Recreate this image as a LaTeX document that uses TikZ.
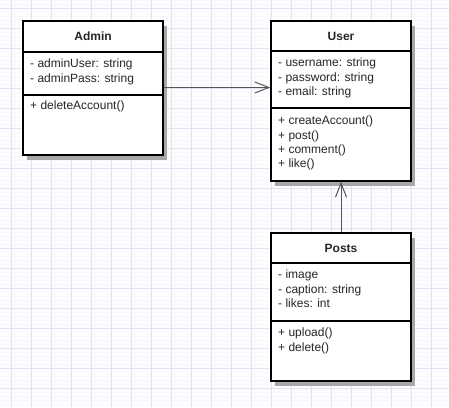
\documentclass[tikz,border=0pt]{standalone}
\usepackage{fontspec}
\setmainfont{Liberation Sans}
\usetikzlibrary{arrows.meta}
\definecolor{gridmajor}{HTML}{E4E2F2}
\definecolor{gridminor}{HTML}{F8F8FC}
\definecolor{shade}{HTML}{A8A8A8}
\definecolor{linkgray}{HTML}{555555}
\tikzset{
  classframe/.style={draw=black, line width=1.6pt, fill=white},
  classshadow/.style={fill=shade, draw=none},
  divider/.style={draw=black, line width=1.6pt},
  title/.style={font=\fontsize{12}{14}\selectfont\bfseries, text=black!85},
  members/.style={font=\fontsize{12}{14.3}\selectfont, text=black!85, anchor=north west, align=left, inner sep=0pt},
  link/.style={draw=linkgray, line width=1pt, -{Straight Barb[length=14pt, width=11pt, line width=1pt]}},
}
% one UML class box: #1 name, #2 left, #3 top, #4 right, #5 bottom, #6 header rule, #7 section rule
\newcommand{\umlclass}[7]{%
  \fill[classshadow] (#2+4,#3+5) rectangle (#4+4,#5+5);
  \path[classframe] (#2,#3) rectangle (#4,#5);
  \draw[divider] (#2,#6) -- (#4,#6);
  \draw[divider] (#2,#7) -- (#4,#7);
  \coordinate (#1-nw) at (#2,#3);
  \coordinate (#1-se) at (#4,#5);
}
\begin{document}
\begin{tikzpicture}[x=1pt, y=-1pt]
  \useasboundingbox (0,0) rectangle (449,407);
  \fill[white] (0,0) rectangle (449,407);
  % background grid
  \foreach \gx in {1.7,5.7,...,449} \draw[gridminor, line width=0.4pt] (\gx,0) -- (\gx,407);
  \foreach \gy in {0.5,4.5,...,407} \draw[gridminor, line width=0.4pt] (0,\gy) -- (449,\gy);
  \foreach \gx in {11.7,31.7,...,449} \draw[gridmajor, line width=0.8pt] (\gx,0) -- (\gx,407);
  \foreach \gy in {8.5,28.5,...,407} \draw[gridmajor, line width=0.8pt] (0,\gy) -- (449,\gy);

  % Admin
  \umlclass{admin}{23}{21}{163}{155}{52}{95}
  \node[title] (adminT) at (93,36.5) {Admin};
  \node[members] (adminA) at (30,59) {- adminUser: string\\- adminPass: string};
  \node[members] (adminO) at (30,101) {+ deleteAccount()};

  % User
  \umlclass{user}{271}{21}{411}{181}{51}{108}
  \node[title] (userT) at (341,36) {User};
  \node[members] (userA) at (278,58) {- username: string\\- password: string\\- email: string};
  \node[members] (userO) at (278,116) {+ createAccount()\\+ post()\\+ comment()\\+ like()};

  % Posts
  \umlclass{posts}{271}{233}{411}{381}{263}{321}
  \node[title] (postsT) at (341,248) {Posts};
  \node[members] (postsA) at (278,270) {- image\\- caption: string\\- likes: int};
  \node[members] (postsO) at (278,328) {+ upload()\\+ delete()};

  % associations
  \coordinate (adminR) at (163.8,87.5);
  \coordinate (userL) at (270.2,87.5);
  \coordinate (postsTop) at (341,232.2);
  \coordinate (userB) at (341,181.8);
  \draw[link] (adminR) -- (userL);
  \draw[link] (postsTop) -- (userB);
\end{tikzpicture}
\end{document}
